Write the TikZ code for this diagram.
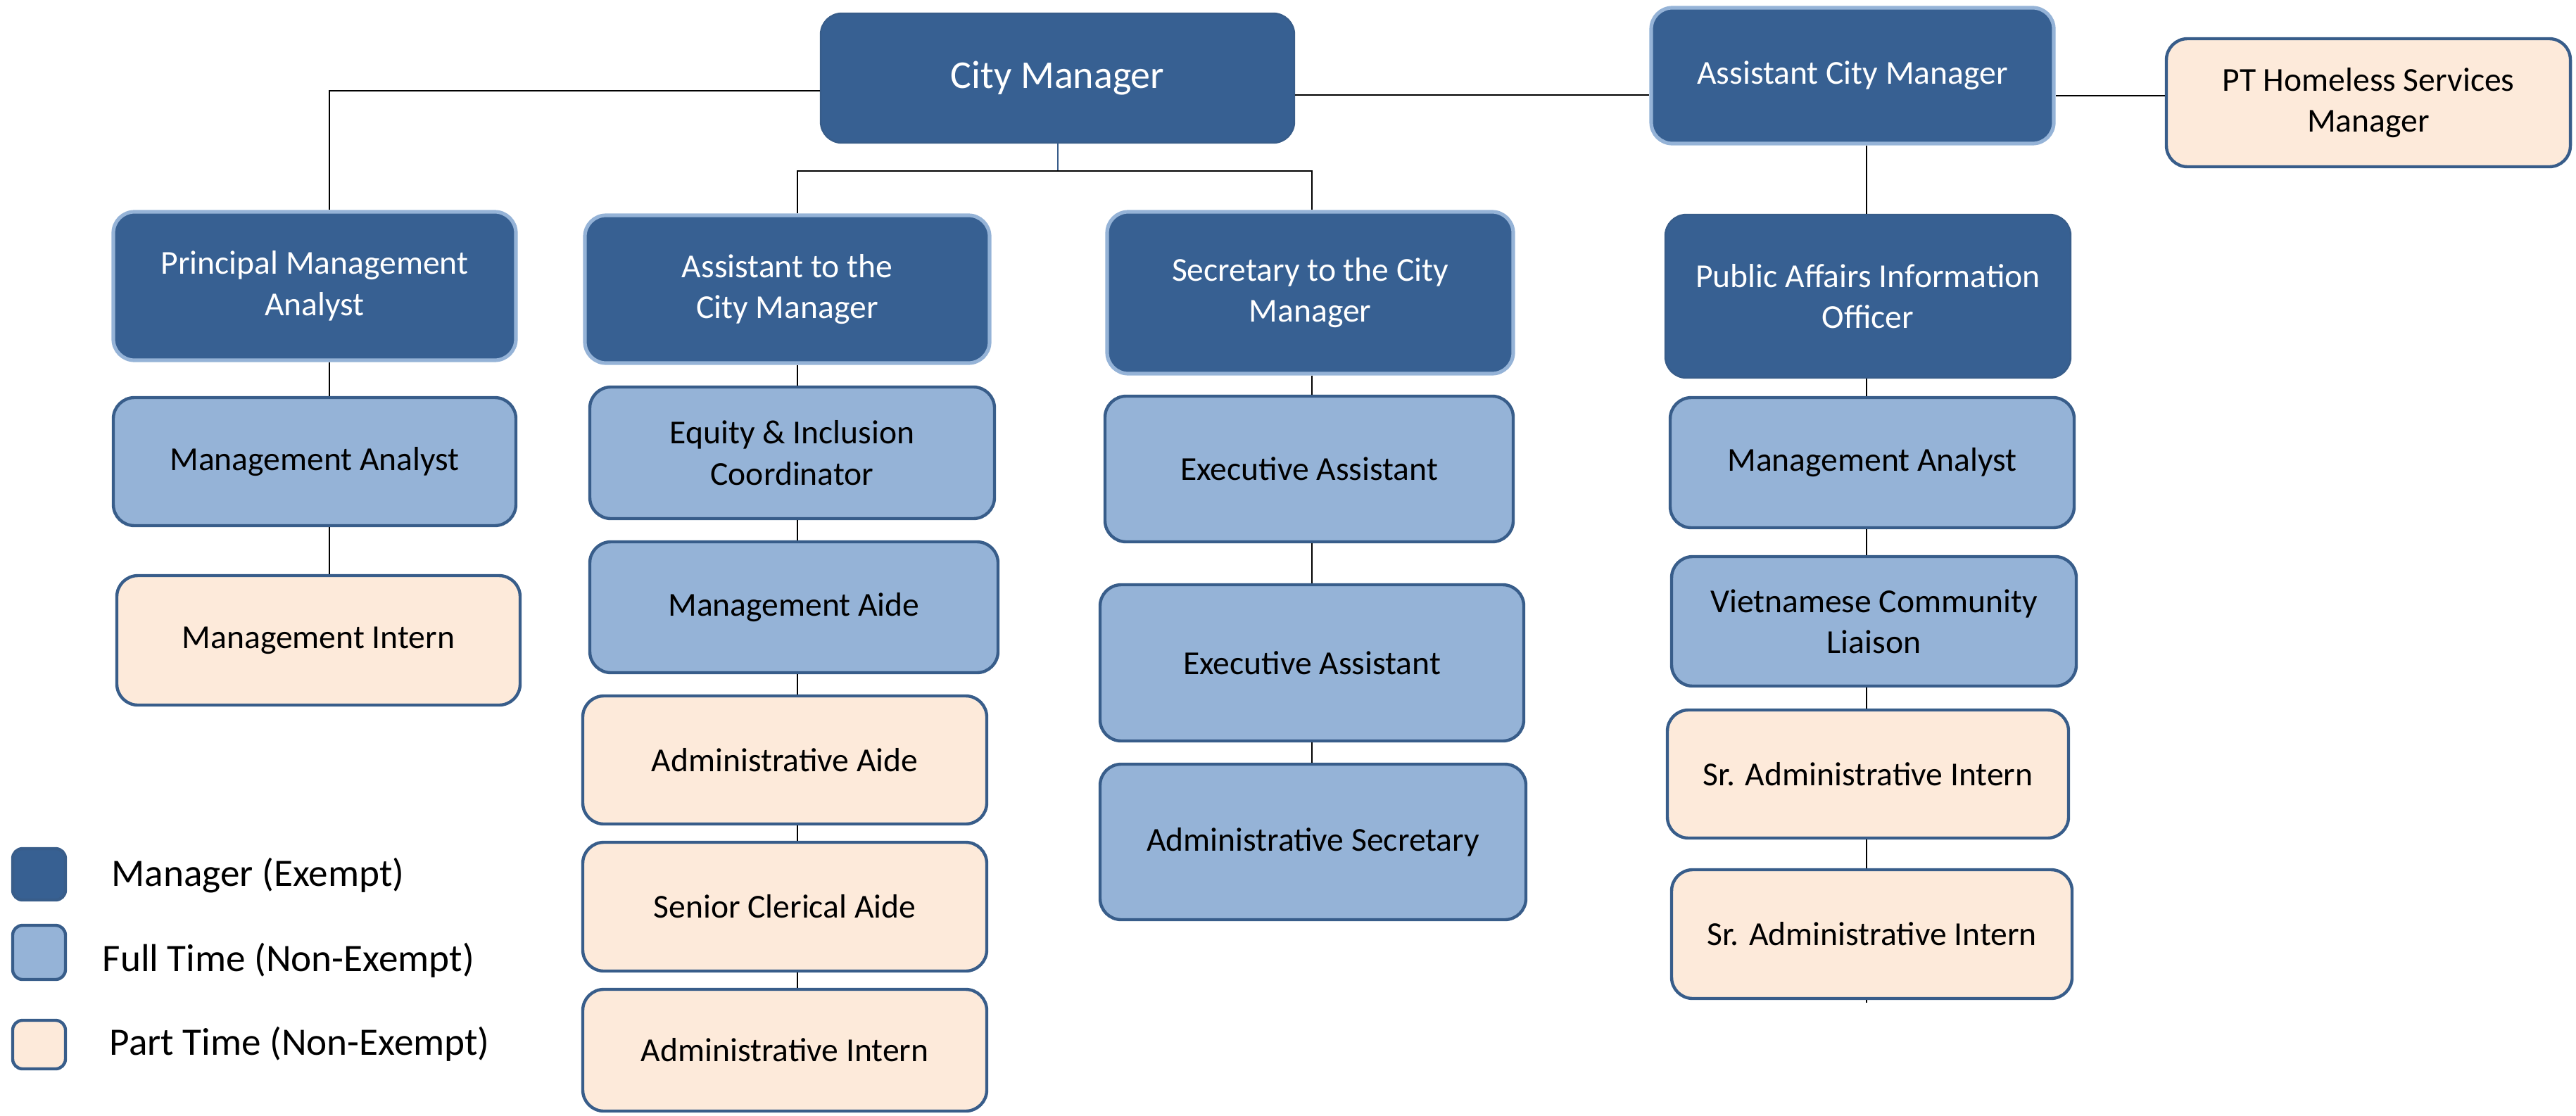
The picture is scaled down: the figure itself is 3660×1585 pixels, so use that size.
\documentclass[tikz,border=0pt]{standalone}
\usepackage{fontspec}
\setmainfont{Carlito}
\definecolor{mgrfill}{HTML}{376092}
\definecolor{mgrline}{HTML}{385D8A}
\definecolor{fullfill}{HTML}{95B3D7}
\definecolor{partfill}{HTML}{FDEADA}
\tikzset{
  orgbase/.style={rounded corners=7.5pt, inner sep=0pt, align=center,
    font=\fontsize{11.9}{14.6}\selectfont},
  mgrbox/.style={orgbase, fill=mgrfill, draw=mgrline, line width=0.6pt, text=white},
  mgrlbox/.style={orgbase, fill=mgrfill, draw=fullfill, line width=1.3pt, text=white},
  fullbox/.style={orgbase, fill=fullfill, draw=mgrline, line width=1.1pt, text=black},
  partbox/.style={orgbase, fill=partfill, draw=mgrline, line width=1.1pt, text=black},
  bigtext/.style={font=\fontsize{14}{17}\selectfont},
  legbox/.style={rounded corners=3.5pt, draw=mgrline, line width=1.1pt},
  legtext/.style={anchor=west, inner sep=0pt, font=\fontsize{13.8}{16}\selectfont},
  conn/.style={draw=black, line width=0.5pt},
}
\newcommand\orgbox[7]{%
  \node[#2, minimum width={(#4-#3)*0.25pt}, minimum height={(#6-#5)*0.25pt}]
    (#1) at ({(#3+#4)/2},{(#5+#6)/2}) {#7};}
\begin{document}
\begin{tikzpicture}[x=0.25pt,y=-0.25pt]
\useasboundingbox (0,0) rectangle (3660,1585);
% column / bus coordinates
\coordinate (cL) at (468,0);
\coordinate (cA) at (1133,0);
\coordinate (cS) at (1864,0);
\coordinate (cP) at (2652,0);
\coordinate (cM) at (1503,243);
\coordinate (yLeft) at (0,129);
\coordinate (yAC) at (0,135);
\coordinate (yPT) at (0,136);
\coordinate (endP) at (2652,1425);

% top level
\orgbox{cm}{mgrbox,bigtext}{1166}{1839}{19}{203}{City Manager}
\orgbox{acm}{mgrlbox}{2346}{2918}{11}{204}{Assistant City Manager}
\orgbox{pt}{partbox}{3078}{3652}{55}{237}{PT Homeless Services\\Manager}
% second level
\orgbox{pma}{mgrlbox}{161}{733}{301}{512}{Principal Management\\Analyst}
\orgbox{atcm}{mgrlbox}{831}{1406}{306}{516}{Assistant to the\\City Manager}
\orgbox{scm}{mgrlbox}{1573}{2150}{301}{531}{Secretary to the City\\Manager}
\orgbox{paio}{mgrbox}{2366}{2942}{305}{537}{Public Affairs Information\\Officer}
% column 1
\orgbox{maone}{fullbox}{161}{733}{565}{747}{Management Analyst}
\orgbox{mi}{partbox}{166}{739}{818}{1002}{Management Intern}
% column 2
\orgbox{eq}{fullbox}{838}{1413}{550}{737}{Equity \& Inclusion\\Coordinator}
\orgbox{maide}{fullbox}{838}{1418}{770}{956}{Management Aide}
\orgbox{aa}{partbox}{828}{1402}{989}{1171}{Administrative Aide}
\orgbox{sca}{partbox}{828}{1402}{1197}{1380}{Senior Clerical Aide}
\orgbox{ai}{partbox}{828}{1402}{1406}{1579}{Administrative Intern}
% column 3
\orgbox{eaone}{fullbox}{1570}{2150}{563}{770}{Executive Assistant}
\orgbox{eatwo}{fullbox}{1563}{2165}{831}{1053}{Executive Assistant}
\orgbox{as}{fullbox}{1563}{2168}{1086}{1307}{Administrative Secretary}
% column 4
\orgbox{matwo}{fullbox}{2373}{2947}{565}{750}{Management Analyst}
\orgbox{vcl}{fullbox}{2375}{2950}{791}{975}{Vietnamese Community\\Liaison}
\orgbox{saione}{partbox}{2369}{2939}{1009}{1191}{Sr. Administrative Intern}
\orgbox{saitwo}{partbox}{2375}{2944}{1236}{1419}{Sr. Administrative Intern}

% legend
\node[legbox, fill=mgrfill, minimum width={75*0.25pt}, minimum height={73*0.25pt}] (lgone) at (55.5,1242.5) {};
\node[legbox, fill=fullfill, minimum width={75*0.25pt}, minimum height={77*0.25pt}] (lgtwo) at (55.5,1353.5) {};
\node[legbox, fill=partfill, minimum width={75*0.25pt}, minimum height={69*0.25pt}] (lgthree) at (55.5,1484.5) {};
\node[legtext] (ltone) at (158,1244) {Manager (Exempt)};
\node[legtext] (lttwo) at (145,1365) {Full Time (Non-Exempt)};
\node[legtext] (ltthree) at (155,1484) {Part Time (Non-Exempt)};

% connectors
\begin{scope}[on background layer/.try]
\end{scope}
\draw[conn] (cm.west |- yLeft) -| (pma.north -| cL);
\draw[conn] (cm.east |- yAC) -- (acm.west |- yAC);
\draw[conn] (acm.east |- yPT) -- (pt.west |- yPT);
\draw[draw=mgrline, line width=0.5pt] (cm.south -| cM) -- (cM);
\draw[conn] (atcm.north -| cA) |- (cM) -| (scm.north -| cS);
\draw[conn] (acm.south -| cP) -- (paio.north -| cP);
% column 1
\draw[conn] (pma.south -| cL) -- (maone.north -| cL);
\draw[conn] (maone.south -| cL) -- (mi.north -| cL);
% column 2
\draw[conn] (atcm.south -| cA) -- (eq.north -| cA);
\draw[conn] (eq.south -| cA) -- (maide.north -| cA);
\draw[conn] (maide.south -| cA) -- (aa.north -| cA);
\draw[conn] (aa.south -| cA) -- (sca.north -| cA);
\draw[conn] (sca.south -| cA) -- (ai.north -| cA);
% column 3
\draw[conn] (scm.south -| cS) -- (eaone.north -| cS);
\draw[conn] (eaone.south -| cS) -- (eatwo.north -| cS);
\draw[conn] (eatwo.south -| cS) -- (as.north -| cS);
% column 4
\draw[conn] (paio.south -| cP) -- (matwo.north -| cP);
\draw[conn] (matwo.south -| cP) -- (vcl.north -| cP);
\draw[conn] (vcl.south -| cP) -- (saione.north -| cP);
\draw[conn] (saione.south -| cP) -- (saitwo.north -| cP);
\draw[conn] (saitwo.south -| cP) -- (endP);
\end{tikzpicture}
\end{document}
